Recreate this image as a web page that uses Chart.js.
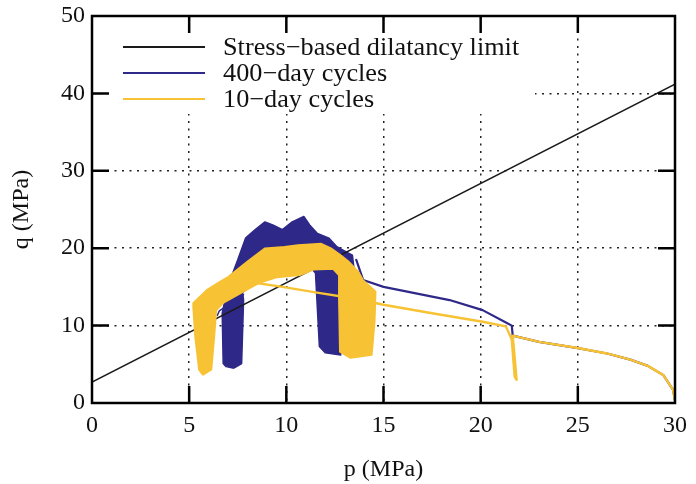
<!DOCTYPE html>
<html>
<head>
<meta charset="utf-8">
<script src="https://cdn.jsdelivr.net/npm/chart.js@4/dist/chart.umd.min.js"></script>
<style>
  html, body { margin: 0; padding: 0; background: #fff; }
  #wrap { width: 696px; height: 484px; position: relative; }
</style>
</head>
<body>
<div id="wrap"><canvas id="chart"></canvas></div>
<script>
/* p-q stress paths for the two cycling schedules */
const SERIF = "'Liberation Serif', 'Times New Roman', serif";
const BLUE = "#2e2888";
const YELLOW = "#f7c234";

// dilatancy limit (straight line)
const limitP = [0, 30];
const limitQ = [2.7, 41.2];

// 400-day cycles: main path and the band swept by the cycles
const blueLineP = [30.0, 29.9, 29.4, 28.6, 27.7, 26.5, 25.0, 23.0, 21.65, 21.6, 21.3, 20.1, 18.4, 15.0, 13.95, 13.6];
const blueLineQ = [0.3, 1.7, 3.6, 4.8, 5.6, 6.4, 7.1, 7.9, 8.7, 10.0, 10.4, 12.0, 13.3, 15.0, 15.9, 18.5];
const blueBandP = [7.3, 6.9, 6.75, 6.7, 6.9, 7.2, 7.5, 7.9, 8.4, 8.9, 9.3, 9.8, 10.3, 10.9, 11.2, 11.6, 12.2, 12.6, 13.1, 13.4, 13.5, 13.7, 13.2, 12.8, 12.8, 12.0, 11.7, 11.5, 11.2, 10.5, 9.5, 8.4, 7.75, 7.8, 7.7, 7.3];
const blueBandQ = [4.5, 4.7, 5.1, 11.6, 14.0, 16.5, 18.5, 21.3, 22.4, 23.4, 23.0, 22.4, 23.4, 24.1, 23.0, 21.9, 21.3, 20.2, 19.5, 19.1, 17.0, 15.5, 15.0, 13.0, 6.2, 6.5, 7.3, 16.8, 17.6, 17.3, 16.9, 15.7, 14.3, 13.3, 5.1, 4.5];
const blueStrandP = [6.45, 6.55, 7.8];
const blueStrandQ = [11.3, 11.9, 14.0];

// 10-day cycles: main path and band
const yellowLineP = [30.0, 29.9, 29.4, 28.6, 27.7, 26.5, 25.0, 23.0, 21.65, 21.85, 21.75, 21.6, 21.3, 20.1, 17.5, 15.0, 13.5, 11.5, 9.8, 8.2];
const yellowLineQ = [0.3, 1.7, 3.6, 4.8, 5.6, 6.4, 7.1, 7.9, 8.7, 3.0, 3.4, 8.2, 9.9, 10.5, 11.6, 12.7, 13.5, 14.3, 15.0, 15.6];
const yellowBandP = [5.7, 5.5, 5.3, 5.2, 5.2, 5.9, 6.6, 7.0, 7.5, 8.0, 8.9, 9.9, 10.6, 11.8, 12.3, 12.8, 13.2, 13.7, 13.95, 14.6, 14.55, 14.4, 13.3, 12.75, 12.7, 12.7, 12.4, 11.4, 10.7, 9.5, 8.6, 7.95, 6.75, 6.4, 6.3, 6.15, 5.7];
const yellowBandQ = [3.6, 4.3, 8.6, 12.4, 12.9, 14.6, 15.7, 16.3, 17.3, 18.3, 20.0, 20.2, 20.4, 20.6, 20.0, 19.1, 18.3, 17.0, 15.9, 14.4, 10.5, 6.2, 5.8, 6.6, 13.5, 16.5, 17.3, 17.2, 16.5, 16.2, 15.5, 14.6, 12.9, 12.0, 8.6, 4.3, 3.6];

const legendLabels = ["Stress\u2212based dilatancy limit", "400\u2212day cycles", "10\u2212day cycles"];
const legendColors = ["#1a1a1a", BLUE, YELLOW];

function xy(ps, qs) { return ps.map((p, i) => ({ x: p, y: qs[i] })); }

function pathSet(ps, qs, color, width, order) {
    return {
        data: xy(ps, qs), borderColor: color, borderWidth: width,
        pointRadius: 0, tension: 0, fill: false, order: order,
        borderJoinStyle: "round", borderCapStyle: "round"
    };
}
function bandSet(ps, qs, color, order) {
    return {
        data: xy(ps, qs), borderColor: color, backgroundColor: color, borderWidth: 1.5,
        pointRadius: 0, tension: 0, fill: "shape", order: order, borderJoinStyle: "round"
    };
}

/* white key box behind the legend, over the grid */
const keyBox = {
    id: "keyBox",
    beforeDatasetsDraw(chart) {
        const ctx = chart.ctx;
        ctx.save();
        ctx.fillStyle = "#fff";
        ctx.fillRect(100, 19, 435, 95);
        ctx.restore();
    },
    afterDraw(chart) {
        const ctx = chart.ctx;
        ctx.save();
        ctx.font = "25px " + SERIF;
        ctx.textBaseline = "middle";
        legendLabels.forEach((lab, i) => {
            const y = 47 + i * 26;
            ctx.strokeStyle = legendColors[i];
            ctx.lineWidth = 2;
            ctx.beginPath(); ctx.moveTo(123, y); ctx.lineTo(205, y); ctx.stroke();
            // the key text is set slightly wide
            ctx.save();
            ctx.translate(223, y + 1);
            ctx.scale(1.05, 1);
            ctx.fillStyle = "#111";
            ctx.fillText(lab, 0, 0);
            ctx.restore();
        });
        ctx.restore();
    }
};

/* closed frame with inward tick marks on all four sides */
const frame = {
    id: "frame",
    afterDraw(chart) {
        const { ctx, chartArea: a, scales: { x, y } } = chart;
        const tl = 17;
        ctx.save();
        ctx.strokeStyle = "#000";
        ctx.lineWidth = 2.5;
        ctx.beginPath();
        x.ticks.forEach(t => {
            if (t.value <= x.min || t.value >= x.max) return;
            const px = x.getPixelForValue(t.value);
            ctx.moveTo(px, a.bottom); ctx.lineTo(px, a.bottom - tl);
            ctx.moveTo(px, a.top); ctx.lineTo(px, a.top + tl);
        });
        y.ticks.forEach(t => {
            if (t.value <= y.min || t.value >= y.max) return;
            const py = y.getPixelForValue(t.value);
            ctx.moveTo(a.left, py); ctx.lineTo(a.left + tl, py);
            ctx.moveTo(a.right, py); ctx.lineTo(a.right - tl, py);
        });
        ctx.stroke();
        ctx.strokeRect(a.left, a.top, a.right - a.left, a.bottom - a.top);
        ctx.restore();
    }
};

const tickFont = { family: SERIF, size: 24 };
// no dotted line on the frame itself
const gridColor = ctx => (ctx.tick && (ctx.index === 0 || ctx.tick.value === ctx.chart.scales[ctx.scale.id].max)) ? "rgba(0,0,0,0)" : "#222";

new Chart(document.getElementById("chart"), {
    type: "line",
    data: {
        datasets: [
            pathSet(limitP, limitQ, "#1a1a1a", 1.6, 2),
            bandSet(blueBandP, blueBandQ, BLUE, 3),
            pathSet(blueLineP, blueLineQ, BLUE, 2.2, 3),
            pathSet(blueStrandP, blueStrandQ, BLUE, 1.4, 3),
            bandSet(yellowBandP, yellowBandQ, YELLOW, 1),
            pathSet(yellowLineP, yellowLineQ, YELLOW, 2.4, 1)
        ]
    },
    options: {
        responsive: true, maintainAspectRatio: false, animation: false,
        layout: { padding: { left: 0, right: 21, top: 16, bottom: 0 } },
        plugins: { legend: { display: false }, tooltip: { enabled: false } },
        scales: {
            x: {
                type: "linear", min: 0, max: 30,
                ticks: { stepSize: 5, font: tickFont, color: "#111", padding: 8, maxRotation: 0 },
                grid: { color: gridColor, lineWidth: 1.5, drawTicks: false },
                border: { display: false, dash: [2, 5.5] },
                title: { display: true, text: "p (MPa)", color: "#111", padding: 0,
                         font: { family: SERIF, size: 24, lineHeight: 1.17 } },
                afterFit(s) { s.height = 81; }
            },
            y: {
                type: "linear", min: 0, max: 50,
                ticks: { stepSize: 10, font: tickFont, color: "#111", padding: 7 },
                grid: { color: gridColor, lineWidth: 1.5, drawTicks: false },
                border: { display: false, dash: [2, 5.5] },
                title: { display: true, text: "q (MPa)", color: "#111", padding: 0,
                         font: { family: SERIF, size: 24, lineHeight: 1.85 } },
                afterFit(s) { s.width = 92; s.paddingTop = 0; s.paddingBottom = 0; }
            }
        }
    },
    plugins: [keyBox, frame]
});
</script>
</body>
</html>
